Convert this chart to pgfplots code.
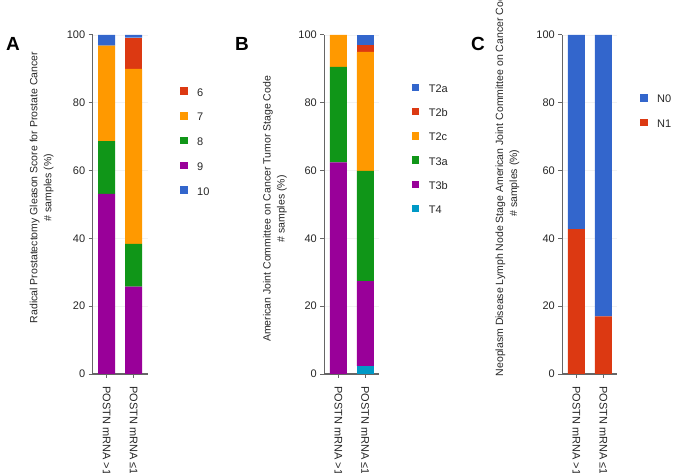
\documentclass[border=0pt]{standalone}
\usepackage{fontspec}
\setmainfont{Liberation Sans}
\usepackage{pgfplots}
\pgfplotsset{compat=1.18}
\definecolor{cblue}{HTML}{3366CC}
\definecolor{cred}{HTML}{DC3912}
\definecolor{corange}{HTML}{FF9900}
\definecolor{cgreen}{HTML}{109618}
\definecolor{cpurple}{HTML}{990099}
\definecolor{cteal}{HTML}{0099C6}
\definecolor{axgray}{HTML}{666666}
\pgfplotsset{
  panel/.style={
    at={(#1bp,99bp)}, anchor=south west,
    scale only axis, width=55bp, height=339bp,
    ybar stacked, bar width=17bp,
    xmin=-0.52, xmax=1.52, ymin=0, ymax=100,
    axis x line*=bottom, axis y line*=left,
    axis line style={axgray, line width=1.2bp},
    xtick={0,1}, xticklabels={POSTN mRNA >1, POSTN mRNA ≤1},
    ytick={0,20,...,100},
    tick align=outside, major tick length=4bp,
    tick style={axgray, line width=1bp},
    ymajorgrids, grid style={black!5, line width=0.6bp},
    /pgf/number format/assume math mode=true,
    tick label style={font=\fontsize{11bp}{13bp}\selectfont, text=black!85},
    x tick label style={rotate=-90, anchor=west, inner xsep=8bp},
    ylabel style={font=\fontsize{10.5bp}{14bp}\selectfont, align=center, anchor=center, text=black!85},
    every axis plot/.append style={draw=none},
    legend image code/.code={\fill[##1] (0bp,-2.5bp) rectangle (7.5bp,5bp); \path (17bp,0bp);},
    legend style={draw=none, fill=none, inner sep=0pt, anchor=north west,
      font=\fontsize{11bp}{13bp}\selectfont, text=black!85,
      nodes={inner sep=0pt, text height=7.5bp, text depth=0pt},
      row sep=16bp},
    legend cell align=left,
  }
}
\begin{document}
\begin{tikzpicture}
% Panel A
\begin{axis}[panel=92.7,
  ylabel={Radical Prostatectomy Gleason Score for Prostate Cancer\\\# samples (\%)},
  ylabel style={at={(axis description cs:-0.93,0.55)}},
  legend style={at={(axis description cs:1.587,0.846)}}]
\addlegendimage{fill=cred}\addlegendentry{6}
\addlegendimage{fill=corange}\addlegendentry{7}
\addlegendimage{fill=cgreen}\addlegendentry{8}
\addlegendimage{fill=cpurple}\addlegendentry{9}
\addlegendimage{fill=cblue}\addlegendentry{10}
\addplot[fill=cpurple] coordinates {(0,53.1) (1,25.8)};
\addplot[fill=cgreen] coordinates {(0,15.6) (1,12.6)};
\addplot[fill=corange] coordinates {(0,28.2) (1,51.6)};
\addplot[fill=cred] coordinates {(0,0) (1,9.2)};
\addplot[fill=cblue] coordinates {(0,3.1) (1,0.8)};
\end{axis}
% Panel B
\begin{axis}[panel=324.3,
  ylabel={American Joint Committee on Cancer Tumor Stage Code\\\# samples (\%)},
  ylabel style={at={(axis description cs:-0.9,0.487)}},
  legend style={at={(axis description cs:1.589,0.857)}, row sep=15.5bp}]
\addlegendimage{fill=cblue}\addlegendentry{T2a}
\addlegendimage{fill=cred}\addlegendentry{T2b}
\addlegendimage{fill=corange}\addlegendentry{T2c}
\addlegendimage{fill=cgreen}\addlegendentry{T3a}
\addlegendimage{fill=cpurple}\addlegendentry{T3b}
\addlegendimage{fill=cteal}\addlegendentry{T4}
\addplot[fill=cteal] coordinates {(0,0) (1,2.4)};
\addplot[fill=cpurple] coordinates {(0,62.4) (1,25.0)};
\addplot[fill=cgreen] coordinates {(0,28.2) (1,32.5)};
\addplot[fill=corange] coordinates {(0,9.4) (1,35.1)};
\addplot[fill=cred] coordinates {(0,0) (1,2.1)};
\addplot[fill=cblue] coordinates {(0,0) (1,2.9)};
\end{axis}
% Panel C
\begin{axis}[panel=562.3,
  ylabel={Neoplasm Disease Lymph Node Stage American Joint Committee on Cancer Code\\\# samples (\%)},
  ylabel style={at={(axis description cs:-1.0,0.563)}},
  legend style={at={(axis description cs:1.413,0.826)}}]
\addlegendimage{fill=cblue}\addlegendentry{N0}
\addlegendimage{fill=cred}\addlegendentry{N1}
\addplot[fill=cred] coordinates {(0,42.7) (1,17.0)};
\addplot[fill=cblue] coordinates {(0,57.3) (1,83.0)};
\end{axis}
\node[font=\fontsize{19bp}{22bp}\selectfont\bfseries] at (13bp,429bp) {A};
\node[font=\fontsize{19bp}{22bp}\selectfont\bfseries] at (242bp,429bp) {B};
\node[font=\fontsize{19bp}{22bp}\selectfont\bfseries] at (478bp,429bp) {C};
\pgfresetboundingbox
\path[use as bounding box] (0,0) rectangle (682bp,473bp);
\end{tikzpicture}
\end{document}
